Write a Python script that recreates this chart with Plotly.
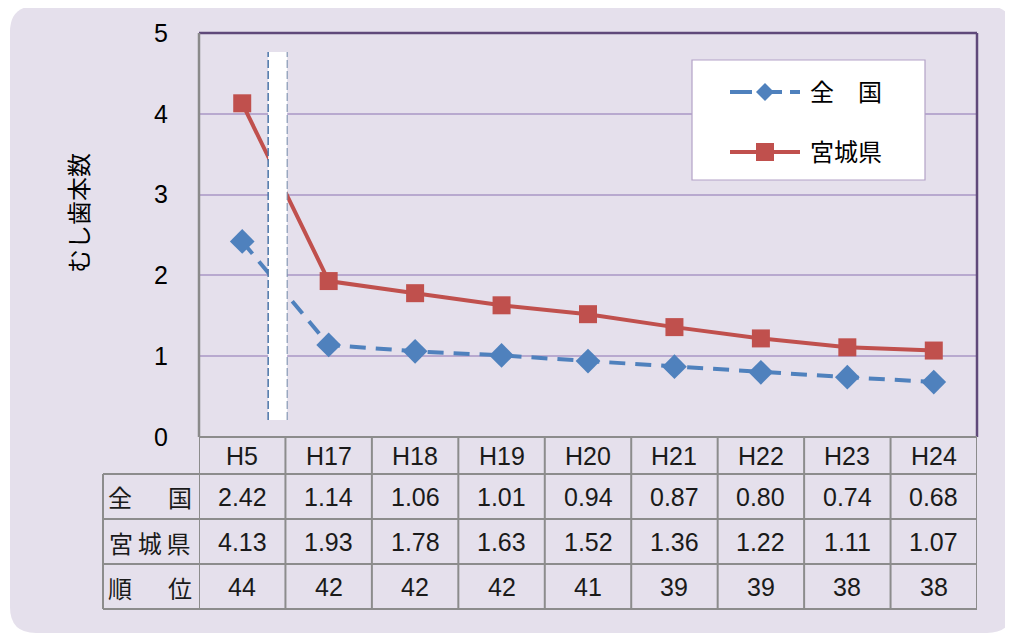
import plotly.graph_objects as go

# ---- data ----
years = ["H5", "H17", "H18", "H19", "H20", "H21", "H22", "H23", "H24"]
national = [2.42, 1.14, 1.06, 1.01, 0.94, 0.87, 0.80, 0.74, 0.68]
miyagi = [4.13, 1.93, 1.78, 1.63, 1.52, 1.36, 1.22, 1.11, 1.07]
rank = [44, 42, 42, 42, 41, 39, 39, 38, 38]
row_labels = ["全\u3000\u2002国", "宮\u2009城\u2009県", "順\u3000\u2002位"]
legend_names = ["全　国", "宮城県"]
y_title = "むし歯本数"

O = 8  # page body margin offset
PLOT_L, PLOT_R, PLOT_T, PLOT_B = 199, 977, 33, 437  # absolute window pixels
W, H = 1013 - O, 635 - O
L, T = PLOT_L - O, PLOT_T - O
R = W + O - PLOT_R
B = H + O - PLOT_B
PW, PH = PLOT_R - PLOT_L, PLOT_B - PLOT_T

def px(x):
    return (x - PLOT_L) / PW

def py(y):
    return (PLOT_B - y) / PH

BLUE = "#4f81bd"
RED = "#c0504d"
LAV = "#e5e0ec"
GRID = "#b8a9cf"
PURPLE = "#5f497a"
TGRAY = "#8c8c8c"
FONT = "Liberation Sans, Noto Sans CJK JP, sans-serif"

fig = go.Figure()
fig.add_trace(go.Scatter(
    x=years, y=national, name=legend_names[0], mode="lines+markers",
    line=dict(color=BLUE, width=4, dash="16px,10px"),
    marker=dict(symbol="diamond", size=19, color=BLUE),
    showlegend=False))
fig.add_trace(go.Scatter(
    x=years, y=miyagi, name=legend_names[1], mode="lines+markers",
    line=dict(color=RED, width=4),
    marker=dict(symbol="square", size=18, color=RED),
    showlegend=False))

shapes = []
# rounded background
x0, y0, x1, y1, r = px(10), py(6), px(1013), py(633), 26
rx, ry = r / PW, r / PH
path = (f"M{x0+rx},{y0} L{x1-rx},{y0} Q{x1},{y0} {x1},{y0-ry} "
        f"L{x1},{y1+ry} Q{x1},{y1} {x1-rx},{y1} L{x0+rx},{y1} "
        f"Q{x0},{y1} {x0},{y1+ry} L{x0},{y0-ry} Q{x0},{y0} {x0+rx},{y0} Z")
shapes.append(dict(type="path", xref="paper", yref="paper", path=path,
                   fillcolor=LAV, line=dict(width=0), layer="below"))

# break marker between H5 and H17
bx0, bx1 = 0.30, 0.52
shapes.append(dict(type="rect", xref="x", yref="paper", x0=bx0, x1=bx1,
                   y0=py(420), y1=py(52), fillcolor="white",
                   line=dict(width=0), layer="above"))
shapes.append(dict(type="line", xref="x", yref="paper", x0=bx0, x1=bx0,
                   y0=py(420), y1=py(52), layer="above",
                   line=dict(color="#4a74a8", width=1.5, dash="8px,3px")))
shapes.append(dict(type="line", xref="x", yref="paper", x0=bx1, x1=bx1,
                   y0=py(420), y1=py(52), layer="above",
                   line=dict(color="#7088a8", width=1, dash="8px,3px")))

# plot borders
shapes.append(dict(type="line", xref="paper", yref="paper", x0=0, x1=1, y0=1, y1=1,
                   line=dict(color=PURPLE, width=2.5), layer="above"))
shapes.append(dict(type="line", xref="paper", yref="paper", x0=1, x1=1, y0=0, y1=1,
                   line=dict(color=PURPLE, width=2.5), layer="above"))
shapes.append(dict(type="line", xref="paper", yref="paper", x0=0, x1=0, y0=0, y1=1,
                   line=dict(color="#8a8a8a", width=2.5), layer="above"))

# table grid
row_lines = [437, 474, 519, 564, 609]
n = len(years)
for i, yy in enumerate(row_lines):
    xs = px(199) if i == 0 else px(103)
    shapes.append(dict(type="line", xref="paper", yref="paper", x0=xs, x1=1,
                       y0=py(yy), y1=py(yy), line=dict(color=TGRAY, width=2)))
for k in range(n + 1):
    shapes.append(dict(type="line", xref="x", yref="paper", x0=k - 0.5, x1=k - 0.5,
                       y0=py(437), y1=py(609), line=dict(color=TGRAY, width=2)))
shapes.append(dict(type="line", xref="paper", yref="paper", x0=px(103), x1=px(103),
                   y0=py(474), y1=py(609), line=dict(color=TGRAY, width=2)))

# legend box and samples
shapes.append(dict(type="rect", xref="paper", yref="paper", x0=px(692), x1=px(925),
                   y0=py(180), y1=py(60), fillcolor="white",
                   line=dict(color="#b3a2c7", width=1.2), layer="above"))
shapes.append(dict(type="line", xref="paper", yref="paper", x0=px(730), x1=px(800),
                   y0=py(92), y1=py(92), layer="above",
                   line=dict(color=BLUE, width=4, dash="22px,8px")))
d = 9
shapes.append(dict(type="path", xref="paper", yref="paper", layer="above",
                   path=f"M{px(765-d)},{py(92)} L{px(765)},{py(92-d)} L{px(765+d)},{py(92)} L{px(765)},{py(92+d)} Z",
                   fillcolor=BLUE, line=dict(width=0)))
shapes.append(dict(type="line", xref="paper", yref="paper", x0=px(730), x1=px(800),
                   y0=py(152), y1=py(152), layer="above",
                   line=dict(color=RED, width=4)))
s = 9
shapes.append(dict(type="rect", xref="paper", yref="paper", layer="above",
                   x0=px(765 - s), x1=px(765 + s), y0=py(152 + s), y1=py(152 - s),
                   fillcolor=RED, line=dict(width=0)))

ann = []
ann.append(dict(xref="paper", yref="paper", x=px(808), y=py(92), text=legend_names[0],
                showarrow=False, xanchor="left", yanchor="middle",
                font=dict(size=24, color="black", family=FONT)))
ann.append(dict(xref="paper", yref="paper", x=px(808), y=py(152), text=legend_names[1],
                showarrow=False, xanchor="left", yanchor="middle",
                font=dict(size=24, color="black", family=FONT)))

# y title
ann.append(dict(xref="paper", yref="paper", x=px(80), y=py(213), text=y_title,
                showarrow=False, textangle=-90, xanchor="center", yanchor="middle",
                font=dict(size=24, color="black", family=FONT)))

# table text
tf = dict(size=25, color="#1a1a1a", family=FONT)
row_c = [456, 497, 542, 587]
for i, yr in enumerate(years):
    for j, txt in enumerate([yr, f"{national[i]:.2f}", f"{miyagi[i]:.2f}", str(rank[i])]):
        ann.append(dict(xref="x", yref="paper", x=yr, y=py(row_c[j]), text=txt,
                        showarrow=False, xanchor="center", yanchor="middle", font=tf))
for j, lab in enumerate(row_labels):
    ann.append(dict(xref="paper", yref="paper", x=px(150), y=py(row_c[j + 1]),
                    text=lab, showarrow=False, xanchor="center", yanchor="middle",
                    font=dict(size=24, color="#1a1a1a", family="Noto Sans CJK JP")))

fig.update_layout(
    width=W, height=H,
    margin=dict(l=L, r=R, t=T, b=B, pad=0),
    paper_bgcolor="white", plot_bgcolor="white",
    shapes=shapes, annotations=ann,
    xaxis=dict(type="category", range=[-0.5, n - 0.5], showticklabels=False,
               showgrid=False, zeroline=False, showline=False, fixedrange=True),
    yaxis=dict(range=[0, 5], dtick=1, showgrid=True, gridcolor=GRID, gridwidth=2,
               zeroline=False, showline=False, ticklabelstandoff=30,
               tickfont=dict(size=25, color="black", family=FONT)),
)

fig.write_html("out.html")
